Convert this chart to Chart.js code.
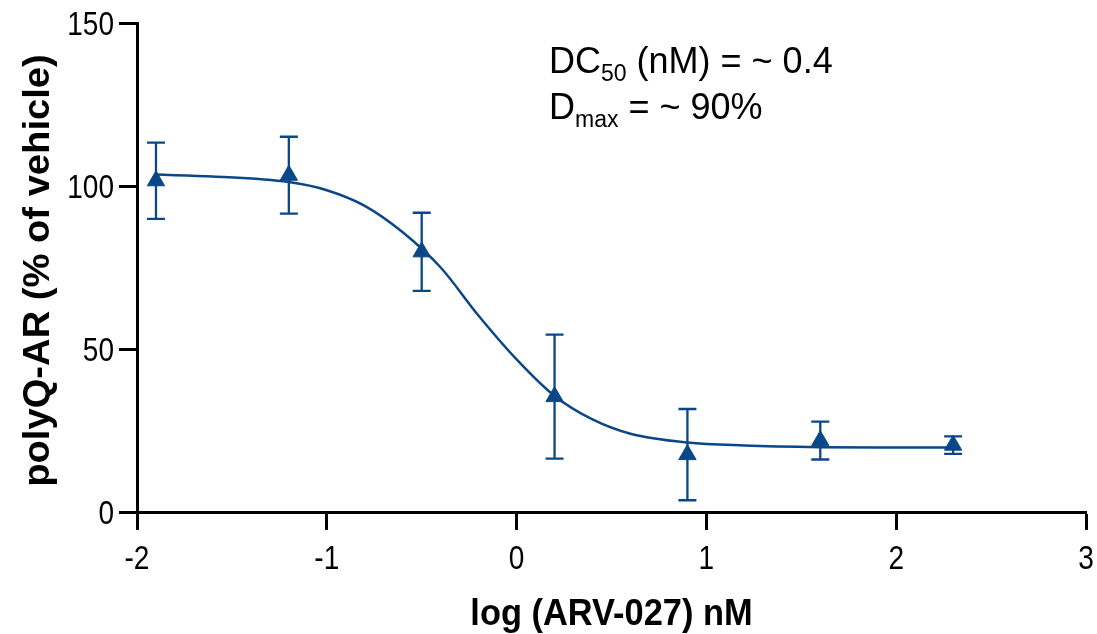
<!DOCTYPE html>
<html lang="en">
<head>
  <meta charset="UTF-8" />
  <title>polyQ-AR vs ARV-027</title>
  <script src="https://cdn.jsdelivr.net/npm/chart.js"></script>
  <style>
    html, body { margin: 0; padding: 0; background: #fff; }
    #wrap { width: 1097px; height: 634px; }
  </style>
</head>
<body>
  <div id="wrap"><canvas id="chart"></canvas></div>

  <script>
    // measured points: log dose (nM), polyQ-AR % of vehicle, error bar half-length
    const doseLog = [-1.9, -1.2, -0.5, 0.2, 0.9, 1.6, 2.3];
    const polyQ = [101.6, 103.3, 79.8, 35.4, 17.6, 21.9, 20.5];
    const polyQErr = [11.7, 11.8, 12.0, 19.0, 14.0, 5.8, 2.7];

    // fitted curve
    const fitX = [-1.9, -1.6, -1.2, -1.0, -0.8, -0.6, -0.4, -0.2, 0.0, 0.2, 0.4, 0.6, 0.9, 1.2, 1.6, 2.0, 2.3];
    const fitY = [103.5, 102.9, 101.2, 98.7, 93.9, 85.8, 75.0, 60.2, 46.8, 35.6, 28.4, 24.0, 21.3, 20.4, 19.9, 19.8, 19.8];

    const xTitle = "log (ARV-027) nM";
    const yTitle = "polyQ-AR (% of vehicle)";

    const NAVY = "#0a4787";
    const SANS = "'Liberation Sans', Arial, Helvetica, sans-serif";

    // text squeezed / stretched along its own direction, like the original export
    function drawText(ctx, text, x, y, sx, align, rot) {
      ctx.save();
      ctx.translate(x, y);
      if (rot) ctx.rotate(rot);
      ctx.scale(sx, 1);
      ctx.textAlign = align;
      ctx.fillText(text, 0, 0);
      ctx.restore();
    }

    const errorBars = {
      id: "errorBars",
      beforeDatasetsDraw(chart) {
        const { ctx, scales: { x, y } } = chart;
        ctx.save();
        ctx.strokeStyle = NAVY;
        ctx.lineWidth = 2.3;
        doseLog.forEach((d, i) => {
          const px = x.getPixelForValue(d);
          const top = y.getPixelForValue(polyQ[i] + polyQErr[i]);
          const bot = y.getPixelForValue(polyQ[i] - polyQErr[i]);
          ctx.beginPath();
          ctx.moveTo(px, top); ctx.lineTo(px, bot);
          ctx.moveTo(px - 9, top); ctx.lineTo(px + 9, top);
          ctx.moveTo(px - 9, bot); ctx.lineTo(px + 9, bot);
          ctx.stroke();
        });
        ctx.restore();
      }
    };

    const axisText = {
      id: "axisText",
      afterDraw(chart) {
        const { ctx, scales: { x, y } } = chart;
        ctx.save();
        ctx.fillStyle = "#000";
        ctx.textBaseline = "alphabetic";

        // tick labels
        ctx.font = "33px " + SANS;
        y.ticks.forEach(t => {
          drawText(ctx, String(t.value), 114, y.getPixelForValue(t.value) + 12, 0.85, "right");
        });
        x.ticks.forEach(t => {
          drawText(ctx, String(t.value), x.getPixelForValue(t.value), 569, 0.85, "center");
        });

        // axis titles
        ctx.font = "bold 37px " + SANS;
        drawText(ctx, xTitle, (x.left + x.right) / 2, 625, 0.93, "center");
        ctx.font = "bold 36px " + SANS;
        drawText(ctx, yTitle, 49, (y.top + y.bottom) / 2 + 3, 1.06, "center", -Math.PI / 2);

        // DC50 / Dmax note
        const big = "36px " + SANS;
        const small = "23px " + SANS;
        function line(px, py, main, sub, rest) {
          ctx.font = big; ctx.fillText(main, px, py); px += ctx.measureText(main).width;
          ctx.font = small; ctx.fillText(sub, px, py + 8); px += ctx.measureText(sub).width;
          ctx.font = big; ctx.fillText(rest, px, py);
        }
        line(549, 73, "DC", "50", " (nM) = ~ 0.4");
        line(549, 119, "D", "max", " = ~ 90%");
        ctx.restore();
      }
    };

    const axisLook = {
      border: { display: true, color: "#000", width: 3 },
      grid: {
        drawOnChartArea: false,
        drawTicks: true,
        tickLength: 18,
        tickWidth: 3,
        tickColor: "#000"
      }
    };

    new Chart(document.getElementById("chart"), {
      type: "scatter",
      data: {
        datasets: [
          {
            label: "fit",
            data: fitX.map((v, i) => ({ x: v, y: fitY[i] })),
            showLine: true,
            borderColor: NAVY,
            borderWidth: 2.5,
            pointRadius: 0,
            cubicInterpolationMode: "monotone",
            fill: false
          },
          {
            label: "polyQ-AR",
            data: doseLog.map((v, i) => ({ x: v, y: polyQ[i] })),
            showLine: false,
            pointStyle: "triangle",
            pointRadius: 10,
            pointBackgroundColor: NAVY,
            pointBorderColor: NAVY,
            pointBorderWidth: 1
          }
        ]
      },
      options: {
        responsive: true,
        maintainAspectRatio: false,
        animation: false,
        layout: { padding: { top: 23, right: 10, left: 0, bottom: 0 } },
        plugins: {
          legend: { display: false },
          tooltip: { enabled: false }
        },
        scales: {
          x: {
            type: "linear",
            min: -2,
            max: 3,
            ticks: { stepSize: 1, display: false },
            ...axisLook,
            afterFit(axis) { axis.height = 122; }
          },
          y: {
            min: 0,
            max: 150,
            ticks: { stepSize: 50, display: false },
            ...axisLook,
            afterFit(axis) { axis.width = 137; }
          }
        }
      },
      plugins: [errorBars, axisText]
    });
  </script>
</body>
</html>
